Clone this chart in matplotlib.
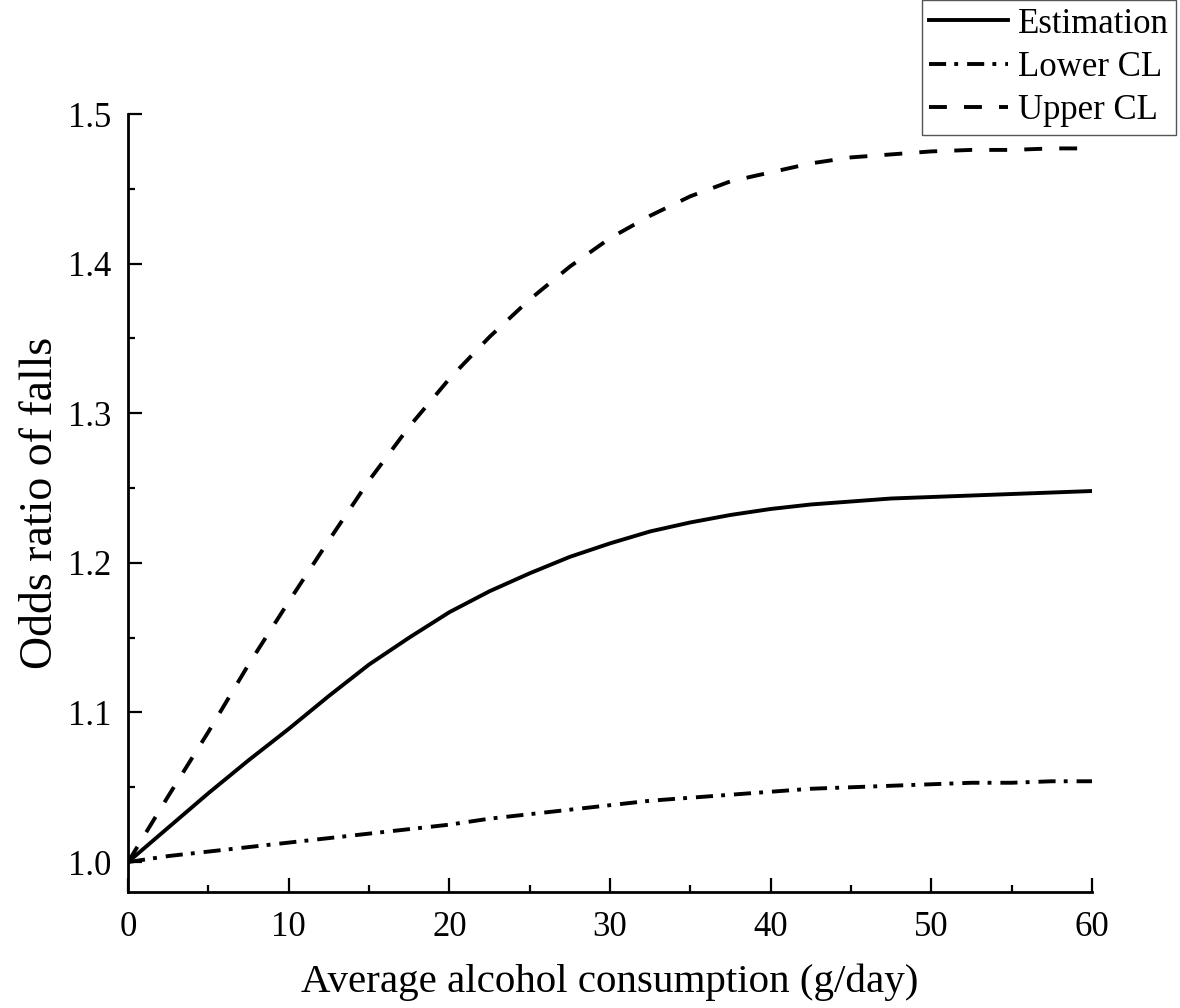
import numpy as np
import matplotlib
matplotlib.use("Agg")
import matplotlib.pyplot as plt
from matplotlib.ticker import MultipleLocator

plt.rcParams['font.family'] = ['Liberation Serif', 'DejaVu Serif']

# values
alcohol = [0, 2.5, 5, 7.5, 10, 12.5, 15, 17.5, 20, 22.5, 25, 27.5, 30, 32.5, 35,
           37.5, 40, 42.5, 45, 47.5, 50, 52.5, 55, 57.5, 60]
estimation = [1.000, 1.023, 1.046, 1.068, 1.089, 1.111, 1.132, 1.150, 1.167, 1.181,
              1.193, 1.204, 1.213, 1.221, 1.227, 1.232, 1.236, 1.239, 1.241, 1.243,
              1.244, 1.245, 1.246, 1.247, 1.248]
lower_cl = [1.000, 1.004, 1.007, 1.010, 1.013, 1.016, 1.019, 1.022, 1.025, 1.029,
            1.032, 1.035, 1.038, 1.041, 1.043, 1.045, 1.047, 1.049, 1.050, 1.051,
            1.052, 1.053, 1.053, 1.054, 1.054]
upper_cl = [1.000, 1.044, 1.087, 1.132, 1.174, 1.215, 1.255, 1.291, 1.323, 1.351,
            1.376, 1.398, 1.417, 1.432, 1.445, 1.455, 1.461, 1.467, 1.471, 1.473,
            1.475, 1.476, 1.476, 1.477, 1.477]

fig = plt.figure(figsize=(11.8, 10.08), dpi=100)
ax = fig.add_axes([0.1085, 0.1151, 0.8169, 0.7718])

lw = 2.8
ax.plot(alcohol, estimation, color='black', lw=lw, label='Estimation')
ax.plot(alcohol, lower_cl, color='black', lw=lw, dashes=(4.4, 2.1, 1.0, 2.3),
        label='Lower CL')
ax.plot(alcohol, upper_cl, color='black', lw=lw, dashes=(4.6, 4.4),
        label='Upper CL')

ax.set_xlim(0, 60)
ax.set_ylim(0.98, 1.5)
ax.xaxis.set_major_locator(MultipleLocator(10))
ax.xaxis.set_minor_locator(MultipleLocator(5))
ax.yaxis.set_minor_locator(MultipleLocator(0.05))
ax.set_yticks([1.0, 1.1, 1.2, 1.3, 1.4, 1.5])
ax.set_yticklabels(['1.0', '1.1', '1.2', '1.3', '1.4', '1.5'])

for s in ['top', 'right']:
    ax.spines[s].set_visible(False)
for s in ['left', 'bottom']:
    ax.spines[s].set_linewidth(2.0)

ax.tick_params(which='major', direction='in', length=10, width=1.6,
               labelsize=25, pad=14)
ax.tick_params(which='minor', direction='in', length=5, width=1.6)
ax.tick_params(axis='y', pad=12)

ax.set_xlabel('Average alcohol consumption (g/day)', fontsize=29.5, labelpad=14)
ax.set_ylabel('Odds ratio of falls', fontsize=33, labelpad=4)

leg = fig.legend(loc='upper right', bbox_to_anchor=(0.997, 1.0), fontsize=25,
                 frameon=True, fancybox=False, edgecolor='#555555', framealpha=1,
                 borderaxespad=0, handlelength=2.25, labelspacing=0.3,
                 handletextpad=0.3, borderpad=0.22)
leg.get_frame().set_linewidth(1.0)

fig.savefig('out.png', dpi=100)
